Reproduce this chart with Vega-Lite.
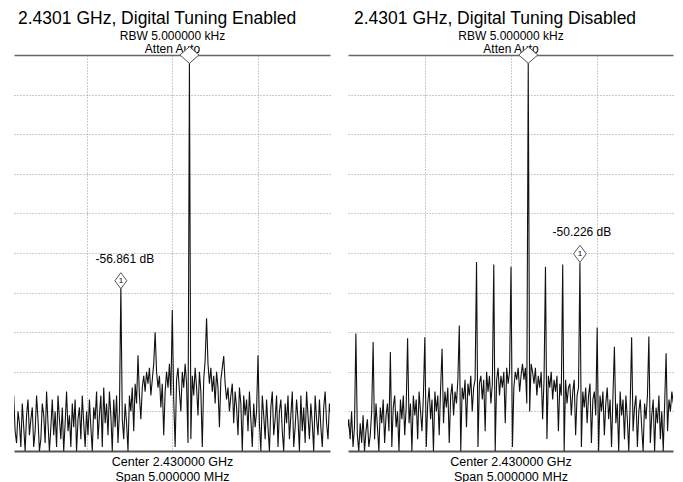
{
"$schema":"https://vega.github.io/schema/vega-lite/v6.json",
"background":"white",
"padding":{"left":14,"top":9,"right":5,"bottom":0},
"spacing":18,
"config":{"view":{"stroke":null},"font":"Liberation Sans",
"title":{"font":"Liberation Sans","fontSize":17.5,"fontWeight":"normal","anchor":"start","color":"#000","offset":2},
"axis":{"titleFont":"Liberation Sans","titleFontWeight":"normal","titleColor":"#000","labels":false,"ticks":false}},
"datasets":{
"enabled":[{"k":-111,"d":-86},{"k":-110,"d":-95},{"k":-109,"d":-98},{"k":-108,"d":-90},{"k":-107,"d":-93},{"k":-106,"d":-99},{"k":-105,"d":-88},{"k":-104,"d":-94},{"k":-103,"d":-100},{"k":-102,"d":-91},{"k":-101,"d":-87},{"k":-100,"d":-96},{"k":-99,"d":-92},{"k":-98,"d":-89},{"k":-97,"d":-99},{"k":-96,"d":-95},{"k":-95,"d":-86},{"k":-94,"d":-92},{"k":-93,"d":-100},{"k":-92,"d":-97},{"k":-91,"d":-88},{"k":-90,"d":-91},{"k":-89,"d":-98},{"k":-88,"d":-85},{"k":-87,"d":-93},{"k":-86,"d":-100},{"k":-85,"d":-94},{"k":-84,"d":-87},{"k":-83,"d":-96},{"k":-82,"d":-90},{"k":-81,"d":-99},{"k":-80,"d":-86},{"k":-79,"d":-92},{"k":-78,"d":-97},{"k":-77,"d":-89},{"k":-76,"d":-100},{"k":-75,"d":-93},{"k":-74,"d":-85},{"k":-73,"d":-95},{"k":-72,"d":-91},{"k":-71,"d":-99},{"k":-70,"d":-88},{"k":-69,"d":-94},{"k":-68,"d":-87},{"k":-67,"d":-100},{"k":-66,"d":-92},{"k":-65,"d":-89},{"k":-64,"d":-97},{"k":-63,"d":-86},{"k":-62,"d":-93},{"k":-61,"d":-99},{"k":-60,"d":-90},{"k":-59,"d":-96},{"k":-58,"d":-87},{"k":-57,"d":-94},{"k":-56,"d":-100},{"k":-55,"d":-89},{"k":-54,"d":-92},{"k":-53,"d":-85},{"k":-52,"d":-97},{"k":-51,"d":-91},{"k":-50,"d":-86},{"k":-49,"d":-99},{"k":-48,"d":-84},{"k":-47,"d":-93},{"k":-46,"d":-88},{"k":-45,"d":-96},{"k":-44,"d":-85},{"k":-43,"d":-91},{"k":-42,"d":-100},{"k":-41,"d":-87},{"k":-40,"d":-94},{"k":-39,"d":-86},{"k":-38,"d":-98},{"k":-37,"d":-90},{"k":-36,"d":-58.5},{"k":-35,"d":-92},{"k":-34,"d":-97},{"k":-33,"d":-88},{"k":-32,"d":-93},{"k":-31,"d":-100},{"k":-30,"d":-86},{"k":-29,"d":-90},{"k":-28,"d":-84},{"k":-27,"d":-95},{"k":-26,"d":-83},{"k":-25,"d":-88},{"k":-24,"d":-75.8},{"k":-23,"d":-86},{"k":-22,"d":-92},{"k":-21,"d":-84},{"k":-20,"d":-81},{"k":-19,"d":-85},{"k":-18,"d":-80},{"k":-17,"d":-83},{"k":-16,"d":-79},{"k":-15,"d":-86},{"k":-14,"d":-82},{"k":-13,"d":-78},{"k":-12,"d":-70},{"k":-11,"d":-80},{"k":-10,"d":-84},{"k":-9,"d":-81},{"k":-8,"d":-89},{"k":-7,"d":-83},{"k":-6,"d":-96},{"k":-5,"d":-85},{"k":-4,"d":-80},{"k":-3,"d":-84},{"k":-2,"d":-78},{"k":-1,"d":-86},{"k":0,"d":-64.4},{"k":1,"d":-87},{"k":2,"d":-99},{"k":3,"d":-82},{"k":4,"d":-79},{"k":5,"d":-85},{"k":6,"d":-90},{"k":7,"d":-80},{"k":8,"d":-84},{"k":9,"d":-78},{"k":10,"d":-83},{"k":11,"d":-98},{"k":12,"d":-2},{"k":13,"d":-97},{"k":14,"d":-81},{"k":15,"d":-86},{"k":16,"d":-79},{"k":17,"d":-84},{"k":18,"d":-91},{"k":19,"d":-80},{"k":20,"d":-85},{"k":21,"d":-99},{"k":22,"d":-82},{"k":23,"d":-77},{"k":24,"d":-66.5},{"k":25,"d":-78},{"k":26,"d":-83},{"k":27,"d":-79},{"k":28,"d":-85},{"k":29,"d":-81},{"k":30,"d":-88},{"k":31,"d":-80},{"k":32,"d":-84},{"k":33,"d":-94},{"k":34,"d":-82},{"k":35,"d":-79},{"k":36,"d":-76},{"k":37,"d":-83},{"k":38,"d":-87},{"k":39,"d":-84},{"k":40,"d":-90},{"k":41,"d":-86},{"k":42,"d":-83},{"k":43,"d":-93},{"k":44,"d":-85},{"k":45,"d":-89},{"k":46,"d":-96},{"k":47,"d":-84},{"k":48,"d":-88},{"k":49,"d":-100},{"k":50,"d":-86},{"k":51,"d":-91},{"k":52,"d":-87},{"k":53,"d":-95},{"k":54,"d":-85},{"k":55,"d":-92},{"k":56,"d":-99},{"k":57,"d":-88},{"k":58,"d":-94},{"k":59,"d":-90},{"k":60,"d":-75.8},{"k":61,"d":-93},{"k":62,"d":-100},{"k":63,"d":-86},{"k":64,"d":-91},{"k":65,"d":-97},{"k":66,"d":-87},{"k":67,"d":-94},{"k":68,"d":-100},{"k":69,"d":-89},{"k":70,"d":-85},{"k":71,"d":-96},{"k":72,"d":-92},{"k":73,"d":-86},{"k":74,"d":-99},{"k":75,"d":-90},{"k":76,"d":-87},{"k":77,"d":-95},{"k":78,"d":-100},{"k":79,"d":-88},{"k":80,"d":-93},{"k":81,"d":-86},{"k":82,"d":-97},{"k":83,"d":-91},{"k":84,"d":-85},{"k":85,"d":-99},{"k":86,"d":-94},{"k":87,"d":-87},{"k":88,"d":-92},{"k":89,"d":-100},{"k":90,"d":-86},{"k":91,"d":-95},{"k":92,"d":-89},{"k":93,"d":-98},{"k":94,"d":-85},{"k":95,"d":-91},{"k":96,"d":-97},{"k":97,"d":-88},{"k":98,"d":-93},{"k":99,"d":-100},{"k":100,"d":-86},{"k":101,"d":-92},{"k":102,"d":-96},{"k":103,"d":-87},{"k":104,"d":-94},{"k":105,"d":-99},{"k":106,"d":-89},{"k":107,"d":-85},{"k":108,"d":-93},{"k":109,"d":-97},{"k":110,"d":-88},{"k":111,"d":-91}],
"disabled":[{"k":-114,"d":-95},{"k":-113,"d":-92},{"k":-112,"d":-97},{"k":-111,"d":-90},{"k":-110,"d":-99},{"k":-109,"d":-94},{"k":-108,"d":-70.3},{"k":-107,"d":-96},{"k":-106,"d":-100},{"k":-105,"d":-93},{"k":-104,"d":-98},{"k":-103,"d":-91},{"k":-102,"d":-100},{"k":-101,"d":-95},{"k":-100,"d":-92},{"k":-99,"d":-99},{"k":-98,"d":-96},{"k":-97,"d":-90},{"k":-96,"d":-72.5},{"k":-95,"d":-97},{"k":-94,"d":-88},{"k":-93,"d":-94},{"k":-92,"d":-100},{"k":-91,"d":-89},{"k":-90,"d":-93},{"k":-89,"d":-87},{"k":-88,"d":-98},{"k":-87,"d":-91},{"k":-86,"d":-88},{"k":-85,"d":-95},{"k":-84,"d":-75},{"k":-83,"d":-99},{"k":-82,"d":-89},{"k":-81,"d":-86},{"k":-80,"d":-94},{"k":-79,"d":-90},{"k":-78,"d":-100},{"k":-77,"d":-87},{"k":-76,"d":-92},{"k":-75,"d":-86},{"k":-74,"d":-96},{"k":-73,"d":-89},{"k":-72,"d":-71.5},{"k":-71,"d":-93},{"k":-70,"d":-88},{"k":-69,"d":-100},{"k":-68,"d":-86},{"k":-67,"d":-91},{"k":-66,"d":-87},{"k":-65,"d":-97},{"k":-64,"d":-85},{"k":-63,"d":-90},{"k":-62,"d":-95},{"k":-61,"d":-86},{"k":-60,"d":-71.3},{"k":-59,"d":-99},{"k":-58,"d":-88},{"k":-57,"d":-84},{"k":-56,"d":-92},{"k":-55,"d":-87},{"k":-54,"d":-100},{"k":-53,"d":-85},{"k":-52,"d":-90},{"k":-51,"d":-86},{"k":-50,"d":-96},{"k":-49,"d":-84},{"k":-48,"d":-74.2},{"k":-47,"d":-93},{"k":-46,"d":-85},{"k":-45,"d":-89},{"k":-44,"d":-84},{"k":-43,"d":-98},{"k":-42,"d":-86},{"k":-41,"d":-83},{"k":-40,"d":-91},{"k":-39,"d":-85},{"k":-38,"d":-88},{"k":-37,"d":-82},{"k":-36,"d":-68.3},{"k":-35,"d":-100},{"k":-34,"d":-84},{"k":-33,"d":-87},{"k":-32,"d":-82},{"k":-31,"d":-94},{"k":-30,"d":-83},{"k":-29,"d":-86},{"k":-28,"d":-81},{"k":-27,"d":-90},{"k":-26,"d":-84},{"k":-25,"d":-82},{"k":-24,"d":-52.3},{"k":-23,"d":-99},{"k":-22,"d":-83},{"k":-21,"d":-81},{"k":-20,"d":-87},{"k":-19,"d":-82},{"k":-18,"d":-95},{"k":-17,"d":-80},{"k":-16,"d":-85},{"k":-15,"d":-81},{"k":-14,"d":-88},{"k":-13,"d":-83},{"k":-12,"d":-52.9},{"k":-11,"d":-100},{"k":-10,"d":-82},{"k":-9,"d":-79},{"k":-8,"d":-86},{"k":-7,"d":-81},{"k":-6,"d":-84},{"k":-5,"d":-80},{"k":-4,"d":-93},{"k":-3,"d":-79},{"k":-2,"d":-83},{"k":-1,"d":-80},{"k":0,"d":-53.5},{"k":1,"d":-99},{"k":2,"d":-84},{"k":3,"d":-80},{"k":4,"d":-82},{"k":5,"d":-79},{"k":6,"d":-85},{"k":7,"d":-81},{"k":8,"d":-78},{"k":9,"d":-82},{"k":10,"d":-79},{"k":11,"d":-88},{"k":12,"d":-2},{"k":13,"d":-90},{"k":14,"d":-78},{"k":15,"d":-80},{"k":16,"d":-83},{"k":17,"d":-79},{"k":18,"d":-86},{"k":19,"d":-81},{"k":20,"d":-84},{"k":21,"d":-80},{"k":22,"d":-92},{"k":23,"d":-82},{"k":24,"d":-53.5},{"k":25,"d":-97},{"k":26,"d":-81},{"k":27,"d":-84},{"k":28,"d":-80},{"k":29,"d":-87},{"k":30,"d":-82},{"k":31,"d":-85},{"k":32,"d":-81},{"k":33,"d":-95},{"k":34,"d":-83},{"k":35,"d":-86},{"k":36,"d":-52.9},{"k":37,"d":-100},{"k":38,"d":-82},{"k":39,"d":-88},{"k":40,"d":-84},{"k":41,"d":-83},{"k":42,"d":-91},{"k":43,"d":-85},{"k":44,"d":-82},{"k":45,"d":-96},{"k":46,"d":-86},{"k":47,"d":-84},{"k":48,"d":-52.4},{"k":49,"d":-99},{"k":50,"d":-85},{"k":51,"d":-89},{"k":52,"d":-84},{"k":53,"d":-93},{"k":54,"d":-86},{"k":55,"d":-83},{"k":56,"d":-98},{"k":57,"d":-87},{"k":58,"d":-85},{"k":59,"d":-91},{"k":60,"d":-68.8},{"k":61,"d":-100},{"k":62,"d":-86},{"k":63,"d":-90},{"k":64,"d":-85},{"k":65,"d":-96},{"k":66,"d":-88},{"k":67,"d":-84},{"k":68,"d":-92},{"k":69,"d":-87},{"k":70,"d":-99},{"k":71,"d":-86},{"k":72,"d":-73.7},{"k":73,"d":-93},{"k":74,"d":-88},{"k":75,"d":-100},{"k":76,"d":-85},{"k":77,"d":-91},{"k":78,"d":-87},{"k":79,"d":-97},{"k":80,"d":-86},{"k":81,"d":-92},{"k":82,"d":-100},{"k":83,"d":-88},{"k":84,"d":-71.3},{"k":85,"d":-95},{"k":86,"d":-89},{"k":87,"d":-86},{"k":88,"d":-99},{"k":89,"d":-90},{"k":90,"d":-87},{"k":91,"d":-94},{"k":92,"d":-100},{"k":93,"d":-88},{"k":94,"d":-92},{"k":95,"d":-86},{"k":96,"d":-71.1},{"k":97,"d":-98},{"k":98,"d":-91},{"k":99,"d":-87},{"k":100,"d":-100},{"k":101,"d":-89},{"k":102,"d":-93},{"k":103,"d":-86},{"k":104,"d":-97},{"k":105,"d":-90},{"k":106,"d":-100},{"k":107,"d":-88},{"k":108,"d":-75.3},{"k":109,"d":-95},{"k":110,"d":-87},{"k":111,"d":-90},{"k":112,"d":-85},{"k":113,"d":-88}]
},
"hconcat":[
{"width":316,"height":396,
"title":{"text":"2.4301 GHz, Digital Tuning Enabled","dx":4},
"resolve":{"axis":{"x":"independent"}},
"layer":[
{"encoding":{
 "x":{"field":"k","type":"quantitative","scale":{"domain":[-110.8,110.4],"nice":false,"zero":false},
  "axis":{"orient":"bottom","domain":true,"domainColor":"#555","domainWidth":2,"grid":true,"values":[-60,0,60],"gridDash":[1,2],"gridColor":"#999","title":["Center 2.430000 GHz","Span 5.000000 MHz"],"titleFontSize":12.5,"titlePadding":4,"titleLineHeight":15}},
 "y":{"field":"d","type":"quantitative","scale":{"domain":[-100,0],"nice":false,"zero":false},
  "axis":{"domain":false,"grid":true,"values":[-90,-80,-70,-60,-50,-40,-30,-20,-10],"gridDash":[1,2],"gridColor":"#999","title":null}}},
 "layer":[
 {"data":{"name":"enabled"},"mark":{"type":"line","color":"#111","strokeWidth":1.1,"clip":true}},
 {"data":{"values":[{"k":-36,"d":-57}]},"mark":{"type":"point","shape":"M-0.75,0L0,-1L0.75,0L0,1Z","size":256,"filled":true,"fill":"white","stroke":"#555","strokeWidth":1,"opacity":1}},
 {"data":{"values":[{"k":-36,"d":-57,"t":"1"}]},"mark":{"type":"text","fontSize":8,"color":"#000","baseline":"middle"},"encoding":{"text":{"field":"t"}}},
 {"data":{"values":[{"k":-36,"d":-51.5,"t":"-56.861 dB"}]},"mark":{"type":"text","fontSize":12,"color":"#000","baseline":"middle","dx":4},"encoding":{"text":{"field":"t"}}}
 ]},
{"data":{"values":[{"k":12,"d":0}]},
 "mark":{"type":"point","shape":"M-1.15,0L0,-1L1.15,0L0,1Z","size":275,"filled":true,"fill":"white","stroke":"#555","strokeWidth":1,"opacity":1},
 "encoding":{
 "x":{"field":"k","type":"quantitative","scale":{"domain":[-110.8,110.4],"nice":false,"zero":false},
  "axis":{"orient":"top","domain":true,"domainColor":"#666","domainWidth":1.5,"grid":false,"title":["RBW 5.000000 kHz","Atten Auto"],"titleFontSize":12,"titlePadding":0,"titleLineHeight":13}},
 "y":{"field":"d","type":"quantitative","scale":{"domain":[-100,0],"nice":false,"zero":false},
  "axis":{"domain":false,"grid":true,"values":[-90,-80,-70,-60,-50,-40,-30,-20,-10],"gridDash":[1,2],"gridColor":"#999","title":null}}}}
]},
{"width":325,"height":396,
"title":{"text":"2.4301 GHz, Digital Tuning Disabled","dx":6},
"resolve":{"axis":{"x":"independent"}},
"layer":[
{"encoding":{
 "x":{"field":"k","type":"quantitative","scale":{"domain":[-113.5,112.8],"nice":false,"zero":false},
  "axis":{"orient":"bottom","domain":true,"domainColor":"#555","domainWidth":2,"grid":true,"values":[-60,0,60],"gridDash":[1,2],"gridColor":"#999","title":["Center 2.430000 GHz","Span 5.000000 MHz"],"titleFontSize":12.5,"titlePadding":4,"titleLineHeight":15}},
 "y":{"field":"d","type":"quantitative","scale":{"domain":[-100,0],"nice":false,"zero":false},
  "axis":{"domain":false,"grid":true,"values":[-90,-80,-70,-60,-50,-40,-30,-20,-10],"gridDash":[1,2],"gridColor":"#999","title":null}}},
 "layer":[
 {"data":{"name":"disabled"},"mark":{"type":"line","color":"#111","strokeWidth":1.1,"clip":true}},
 {"data":{"values":[{"k":48,"d":-50.2}]},"mark":{"type":"point","shape":"M-0.75,0L0,-1L0.75,0L0,1Z","size":290,"filled":true,"fill":"white","stroke":"#555","strokeWidth":1,"opacity":1}},
 {"data":{"values":[{"k":48,"d":-50.2,"t":"1"}]},"mark":{"type":"text","fontSize":8,"color":"#000","baseline":"middle"},"encoding":{"text":{"field":"t"}}},
 {"data":{"values":[{"k":48,"d":-44.8,"t":"-50.226 dB"}]},"mark":{"type":"text","fontSize":12,"color":"#000","baseline":"middle","dx":2},"encoding":{"text":{"field":"t"}}}
 ]},
{"data":{"values":[{"k":12,"d":0}]},
 "mark":{"type":"point","shape":"M-1.15,0L0,-1L1.15,0L0,1Z","size":275,"filled":true,"fill":"white","stroke":"#555","strokeWidth":1,"opacity":1},
 "encoding":{
 "x":{"field":"k","type":"quantitative","scale":{"domain":[-113.5,112.8],"nice":false,"zero":false},
  "axis":{"orient":"top","domain":true,"domainColor":"#666","domainWidth":1.5,"grid":false,"title":["RBW 5.000000 kHz","Atten Auto"],"titleFontSize":12,"titlePadding":0,"titleLineHeight":13}},
 "y":{"field":"d","type":"quantitative","scale":{"domain":[-100,0],"nice":false,"zero":false},
  "axis":{"domain":false,"grid":true,"values":[-90,-80,-70,-60,-50,-40,-30,-20,-10],"gridDash":[1,2],"gridColor":"#999","title":null}}}}
]}
]
}
